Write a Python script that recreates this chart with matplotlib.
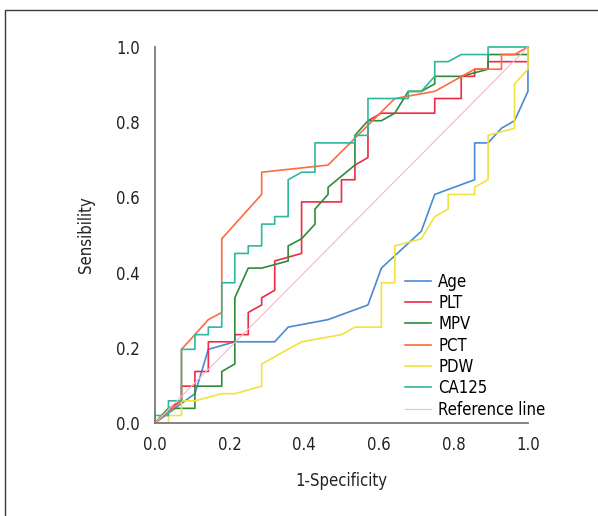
import matplotlib
matplotlib.use("Agg")
import matplotlib.pyplot as plt
from matplotlib import font_manager
from matplotlib.patches import Rectangle

# the reference uses a narrow sans; pick the most condensed regular face installed
def stretch_value(s):
    if isinstance(s, str):
        return font_manager.stretch_dict.get(s, 500)
    return s

narrow = None
for f in font_manager.fontManager.ttflist:
    if f.style != "normal" or f.weight not in (400, "normal", "regular"):
        continue
    if f.name.startswith(("Noto Sans CJK", "Noto Sans Mono")):
        continue
    sv = stretch_value(f.stretch)
    if sv < 500 and (narrow is None or sv < stretch_value(narrow.stretch)):
        narrow = f

if narrow is not None:
    plt.rcParams["font.family"] = [narrow.name, "DejaVu Sans"]
    plt.rcParams["font.stretch"] = narrow.stretch
    fsize = 12
else:
    plt.rcParams["font.family"] = ["Liberation Sans", "DejaVu Sans"]
    fsize = 11.5

# ROC curves (1-specificity, sensitivity)
age_fpr = [0, .107, .143, .214, .321, .357, .464, .571, .607, .714, .75, .857, .857, .893, .929, .964, 1, 1]
age_tpr = [0, .078, .196, .216, .216, .255, .275, .314, .412, .510, .608, .647, .745, .745, .784, .804, .882, 1]

plt_fpr = [0, .036, .071, .071, .107, .107, .143, .143, .214, .214, .25, .25, .286, .286, .321, .321, .393, .393,
           .5, .5, .536, .536, .571, .571, .607, .75, .75, .821, .821, .857, .857, .893, .893, 1, 1]
plt_tpr = [0, .039, .059, .098, .098, .137, .137, .216, .216, .235, .235, .294, .314, .333, .353, .431, .451, .588,
           .588, .647, .647, .686, .706, .804, .824, .824, .863, .863, .922, .922, .941, .941, .961, .961, 1]

mpv_fpr = [0, .036, .107, .107, .179, .179, .214, .214, .25, .286, .357, .357, .393, .429, .429, .464, .464,
           .536, .536, .571, .607, .643, .679, .714, .75, .75, .821, .893, .893, 1, 1]
mpv_tpr = [0, .039, .039, .098, .098, .137, .157, .333, .412, .412, .431, .471, .490, .529, .569, .608, .627,
           .686, .765, .804, .804, .824, .882, .882, .902, .922, .922, .941, .980, .980, 1]

pct_fpr = [0, .071, .071, .107, .143, .179, .179, .286, .286, .464, .643, .75, .857, .929, .929, .964, 1]
pct_tpr = [0, .059, .196, .235, .275, .294, .490, .608, .667, .686, .863, .882, .941, .941, .980, .980, 1]

pdw_fpr = [0, .036, .036, .071, .071, .107, .179, .214, .286, .286, .393, .5, .536, .607, .607, .643, .643,
           .714, .75, .786, .786, .857, .857, .893, .893, .964, .964, 1, 1]
pdw_tpr = [0, 0, .020, .020, .059, .059, .078, .078, .098, .157, .216, .235, .255, .255, .373, .373, .471,
           .490, .549, .569, .608, .608, .627, .647, .765, .784, .902, .941, 1]

ca125_fpr = [0, 0, .036, .036, .071, .071, .107, .107, .143, .143, .179, .179, .214, .214, .25, .25, .286, .286,
             .321, .321, .357, .357, .393, .429, .429, .536, .536, .571, .571, .679, .679, .714, .75, .75, .786,
             .821, .893, .893, 1]
ca125_tpr = [0, .020, .020, .059, .059, .196, .196, .235, .235, .255, .255, .373, .373, .451, .451, .471, .471,
             .529, .529, .549, .549, .647, .667, .667, .745, .745, .765, .765, .863, .863, .882, .882, .922, .961,
             .961, .980, .980, 1, 1]

ref_x = [0, 1]
ref_y = [0, 1]

labels = ["Age", "PLT", "MPV", "PCT", "PDW", "CA125", "Reference line"]
colors = ["#4a89d4", "#ee2a45", "#2f8a3c", "#ff6a3f", "#f2e23c", "#2fb89b", "#f5b8cc"]

series = [
    (age_fpr, age_tpr),
    (plt_fpr, plt_tpr),
    (mpv_fpr, mpv_tpr),
    (pct_fpr, pct_tpr),
    (pdw_fpr, pdw_tpr),
    (ca125_fpr, ca125_tpr),
    (ref_x, ref_y),
]

fig = plt.figure(figsize=(5.98, 5.16), dpi=100)
ax = fig.add_axes([0.2592, 0.1802, 0.6237, 0.7287])

for (xs, ys), lab, col in zip(series, labels, colors):
    lw = 0.8 if lab == "Reference line" else 1.2
    ax.plot(xs, ys, color=col, linewidth=lw, label=lab, clip_on=False)

ax.set_xlim(0, 1)
ax.set_ylim(0, 1)
ax.set_xticks([0, 0.2, 0.4, 0.6, 0.8, 1.0])
ax.set_yticks([0, 0.2, 0.4, 0.6, 0.8, 1.0])
ax.set_xticklabels(["0.0", "0.2", "0.4", "0.6", "0.8", "1.0"])
ax.set_yticklabels(["0.0", "0.2", "0.4", "0.6", "0.8", "1.0"])
ax.tick_params(axis="x", length=0, pad=9, labelsize=fsize, colors="#222222")
ax.tick_params(axis="y", length=0, pad=11, labelsize=fsize, colors="#222222")

for side in ["top", "right"]:
    ax.spines[side].set_visible(False)
for side in ["left", "bottom"]:
    ax.spines[side].set_color("#7a7a7a")
    ax.spines[side].set_linewidth(1.3)

ax.set_xlabel("1-Specificity", fontsize=fsize, color="#222222")
ax.set_ylabel("Sensibility", fontsize=fsize, color="#222222")
ax.xaxis.set_label_coords(0.5, -0.13)
ax.yaxis.set_label_coords(-0.16, 0.5)

ax.legend(loc="upper left", bbox_to_anchor=(0.67, 0.40), frameon=False,
          fontsize=fsize, handlelength=1.55, handletextpad=0.45,
          labelspacing=0.2, borderpad=0, borderaxespad=0)

# outer frame of the figure panel
fig.patches.append(Rectangle((5 / 598, -0.1), 1.2, 1 - 9.5 / 516 + 0.1,
                             transform=fig.transFigure, fill=False,
                             edgecolor="#3a3a3a", linewidth=1.0))

fig.savefig("out.png", dpi=100)
